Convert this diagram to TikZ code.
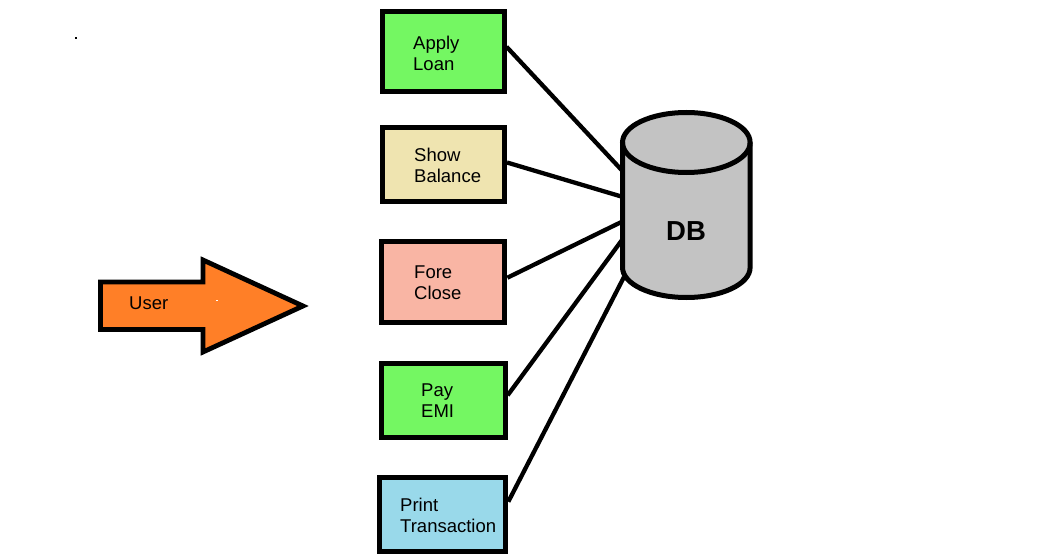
\documentclass[tikz,border=0pt]{standalone}
\usepackage{fontspec}
\setmainfont{Liberation Sans}
\definecolor{cgreen}{RGB}{116,247,98}
\definecolor{ctan}{RGB}{239,228,176}
\definecolor{csalmon}{RGB}{249,181,164}
\definecolor{cblue}{RGB}{153,217,234}
\definecolor{corange}{RGB}{255,127,39}
\definecolor{cgray}{RGB}{195,195,195}
\tikzset{
  box/.style={draw=black, line width=5pt, rectangle, inner sep=0pt},
  lbl/.style={inner sep=0pt, anchor=base west, font=\fontsize{18.5}{21}\selectfont},
  conn/.style={draw=black, line width=4.3pt},
}
\newcommand{\twolines}[2]{\begin{tabular}[t]{@{}l@{}}#1\\#2\end{tabular}}
\begin{document}
\begin{tikzpicture}[x=1pt,y=-1pt, line join=miter]
\useasboundingbox (0,0) rectangle (1047,559);
\fill[white] (0,0) rectangle (1047,559);

% boxes
\node[box, fill=cgreen, minimum width=122pt, minimum height=80pt] (apply) at (443,51.75) {};
\node[box, fill=ctan, minimum width=122.5pt, minimum height=74pt] (show) at (443.25,164.5) {};
\node[box, fill=csalmon, minimum width=123pt, minimum height=80.7pt] (fore) at (443.4,282.2) {};
\node[box, fill=cgreen, minimum width=123.7pt, minimum height=74.3pt] (pay) at (443.3,400.3) {};
\node[box, fill=cblue, minimum width=126pt, minimum height=74.3pt] (print) at (442.8,514.7) {};

\node[lbl] (applyT) at (413,50) {\twolines{Apply}{Loan}};
\node[lbl] (showT) at (414,161) {\twolines{Show}{Balance}};
\node[lbl] (foreT) at (414,278) {\twolines{Fore}{Close}};
\node[lbl] (payT) at (421,396) {\twolines{Pay}{EMI}};
\node[lbl] (printT) at (400,511) {\twolines{Print}{Transaction}};

% database cylinder
\fill[cgray] (622.5,142.5) -- (622.5,267.5)
  arc[start angle=180, end angle=360, x radius=63.8pt, y radius=30pt]
  -- (750.1,142.5)
  arc[start angle=0, end angle=180, x radius=63.8pt, y radius=30pt] -- cycle;
\draw[line width=5pt] (622.5,142.5) -- (622.5,267.5)
  arc[start angle=180, end angle=360, x radius=63.8pt, y radius=30pt]
  -- (750.1,142.5);
\draw[line width=5pt] (686.3,142.5) ellipse [x radius=63.8pt, y radius=30pt];
\node[inner sep=0pt, anchor=base, font=\bfseries\fontsize{27.5}{30}\selectfont] (db) at (686,240) {DB};

\coordinate (dbA) at (623,171.5);
\coordinate (dbB) at (622,196.7);
\coordinate (dbC) at (622,221.7);
\coordinate (dbD) at (622,240);
\coordinate (dbE) at (624,277);

% connectors
\draw[conn] ([yshift=5pt]apply.east) -- (dbA);
\draw[conn] ([yshift=2pt]show.east) -- (dbB);
\draw[conn] ([yshift=4.5pt]fore.east) -- (dbC);
\draw[conn] ([yshift=5pt]pay.east) -- (dbD);
\draw[conn] ([yshift=13pt]print.east) -- (dbE);

% user arrow
\draw[line width=4.8pt, fill=corange] (100.5,282) -- (203,282) -- (203,260) -- (303,306)
  -- (203,352) -- (203,329.5) -- (100.5,329.5) -- cycle;
\node[lbl] (user) at (129,309) {User};
\fill[white] (216,299.5) rectangle (217.5,301);

% stray dot
\fill[black] (74.5,37) rectangle (76.5,39);
\end{tikzpicture}
\end{document}
